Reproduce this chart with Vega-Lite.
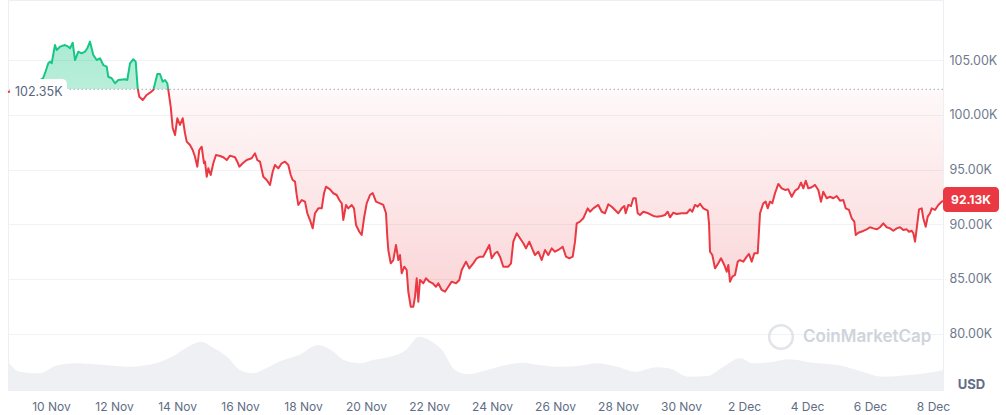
{
  "$schema": "https://vega.github.io/schema/vega-lite/v6.json",
  "width": 935,
  "height": 390,
  "autosize": {"type": "none"},
  "padding": {"left": 8, "top": 0, "right": 63, "bottom": 25},
  "background": "white",
  "config": {
    "font": "Inter",
    "view": {"stroke": "#eceff3"},
    "axis": {"labelFont": "Inter", "titleFont": "Inter"}
  },
  "datasets": {
    "price": [
      {"t": 8.635, "p": 102.10}, {"t": 9.016, "p": 102.38}, {"t": 9.397, "p": 102.74}, {"t": 9.746, "p": 103.36},
      {"t": 9.810, "p": 103.82}, {"t": 9.914, "p": 104.73}, {"t": 9.968, "p": 104.88}, {"t": 10.022, "p": 104.73},
      {"t": 10.127, "p": 106.40}, {"t": 10.181, "p": 105.95}, {"t": 10.286, "p": 106.25}, {"t": 10.444, "p": 106.40},
      {"t": 10.549, "p": 106.25}, {"t": 10.603, "p": 106.10}, {"t": 10.689, "p": 106.61}, {"t": 10.762, "p": 105.03},
      {"t": 10.867, "p": 105.79}, {"t": 10.975, "p": 105.64}, {"t": 11.079, "p": 105.79}, {"t": 11.152, "p": 106.10},
      {"t": 11.238, "p": 106.71}, {"t": 11.343, "p": 105.49}, {"t": 11.451, "p": 105.03}, {"t": 11.556, "p": 105.19},
      {"t": 11.660, "p": 104.57}, {"t": 11.768, "p": 104.42}, {"t": 11.819, "p": 103.50}, {"t": 11.927, "p": 103.36},
      {"t": 12.032, "p": 102.90}, {"t": 12.137, "p": 103.20}, {"t": 12.349, "p": 103.27}, {"t": 12.422, "p": 103.20},
      {"t": 12.508, "p": 104.73}, {"t": 12.613, "p": 105.10}, {"t": 12.689, "p": 104.88}, {"t": 12.752, "p": 102.44},
      {"t": 12.803, "p": 101.67}, {"t": 12.911, "p": 101.37}, {"t": 13.038, "p": 101.83}, {"t": 13.143, "p": 102.04},
      {"t": 13.248, "p": 102.29}, {"t": 13.302, "p": 102.90}, {"t": 13.375, "p": 103.75}, {"t": 13.460, "p": 103.75},
      {"t": 13.546, "p": 103.05}, {"t": 13.619, "p": 103.20}, {"t": 13.692, "p": 102.90}, {"t": 13.724, "p": 102.29},
      {"t": 13.800, "p": 100.76}, {"t": 13.863, "p": 98.81}, {"t": 13.937, "p": 98.17}, {"t": 14.010, "p": 99.70},
      {"t": 14.095, "p": 99.09}, {"t": 14.181, "p": 99.70}, {"t": 14.254, "p": 98.33}, {"t": 14.308, "p": 97.56},
      {"t": 14.413, "p": 97.26}, {"t": 14.498, "p": 96.80}, {"t": 14.571, "p": 96.18}, {"t": 14.644, "p": 95.27},
      {"t": 14.708, "p": 96.80}, {"t": 14.784, "p": 97.10}, {"t": 14.857, "p": 95.58}, {"t": 14.889, "p": 95.73},
      {"t": 14.943, "p": 94.35}, {"t": 14.994, "p": 95.12}, {"t": 15.070, "p": 94.51}, {"t": 15.152, "p": 95.58},
      {"t": 15.238, "p": 96.34}, {"t": 15.365, "p": 96.25}, {"t": 15.470, "p": 96.13}, {"t": 15.578, "p": 95.88},
      {"t": 15.683, "p": 96.28}, {"t": 15.841, "p": 96.13}, {"t": 15.914, "p": 95.73}, {"t": 15.978, "p": 95.27},
      {"t": 16.086, "p": 95.58}, {"t": 16.213, "p": 95.88}, {"t": 16.371, "p": 96.04}, {"t": 16.476, "p": 96.50},
      {"t": 16.549, "p": 95.88}, {"t": 16.635, "p": 95.73}, {"t": 16.740, "p": 94.35}, {"t": 16.848, "p": 94.05},
      {"t": 16.952, "p": 93.60}, {"t": 17.038, "p": 94.81}, {"t": 17.111, "p": 95.43}, {"t": 17.216, "p": 95.12},
      {"t": 17.324, "p": 95.58}, {"t": 17.429, "p": 95.73}, {"t": 17.533, "p": 95.43}, {"t": 17.610, "p": 94.51},
      {"t": 17.673, "p": 94.05}, {"t": 17.746, "p": 93.90}, {"t": 17.800, "p": 92.68}, {"t": 17.851, "p": 91.77},
      {"t": 17.959, "p": 92.22}, {"t": 18.063, "p": 92.07}, {"t": 18.137, "p": 91.01}, {"t": 18.222, "p": 90.39},
      {"t": 18.308, "p": 89.63}, {"t": 18.381, "p": 91.01}, {"t": 18.486, "p": 91.46}, {"t": 18.594, "p": 91.46},
      {"t": 18.667, "p": 92.84}, {"t": 18.730, "p": 93.44}, {"t": 18.857, "p": 93.20}, {"t": 18.962, "p": 92.84},
      {"t": 19.070, "p": 92.68}, {"t": 19.152, "p": 92.22}, {"t": 19.229, "p": 91.92}, {"t": 19.279, "p": 90.39},
      {"t": 19.365, "p": 91.77}, {"t": 19.438, "p": 91.46}, {"t": 19.546, "p": 91.77}, {"t": 19.619, "p": 91.46},
      {"t": 19.683, "p": 89.94}, {"t": 19.787, "p": 89.32}, {"t": 19.863, "p": 89.02}, {"t": 19.937, "p": 90.55},
      {"t": 20.022, "p": 91.92}, {"t": 20.127, "p": 92.68}, {"t": 20.213, "p": 92.86}, {"t": 20.317, "p": 92.07},
      {"t": 20.444, "p": 91.92}, {"t": 20.549, "p": 91.77}, {"t": 20.635, "p": 91.01}, {"t": 20.676, "p": 88.87},
      {"t": 20.708, "p": 87.65}, {"t": 20.784, "p": 86.43}, {"t": 20.867, "p": 86.73}, {"t": 20.952, "p": 88.11},
      {"t": 21.025, "p": 86.73}, {"t": 21.079, "p": 87.19}, {"t": 21.133, "p": 85.52}, {"t": 21.216, "p": 86.12},
      {"t": 21.292, "p": 85.82}, {"t": 21.343, "p": 83.83}, {"t": 21.419, "p": 82.46}, {"t": 21.502, "p": 82.46},
      {"t": 21.556, "p": 83.38}, {"t": 21.610, "p": 85.06}, {"t": 21.660, "p": 82.92}, {"t": 21.714, "p": 84.90},
      {"t": 21.819, "p": 84.60}, {"t": 21.905, "p": 85.06}, {"t": 22.010, "p": 84.75}, {"t": 22.117, "p": 84.60},
      {"t": 22.222, "p": 84.29}, {"t": 22.295, "p": 84.60}, {"t": 22.403, "p": 83.99}, {"t": 22.508, "p": 83.83},
      {"t": 22.613, "p": 84.29}, {"t": 22.721, "p": 84.75}, {"t": 22.857, "p": 84.60}, {"t": 22.962, "p": 84.90},
      {"t": 23.038, "p": 85.82}, {"t": 23.175, "p": 86.58}, {"t": 23.279, "p": 85.97}, {"t": 23.406, "p": 86.43},
      {"t": 23.514, "p": 86.89}, {"t": 23.619, "p": 87.04}, {"t": 23.724, "p": 87.04}, {"t": 23.832, "p": 87.65},
      {"t": 23.914, "p": 88.11}, {"t": 23.990, "p": 86.89}, {"t": 24.095, "p": 87.35}, {"t": 24.168, "p": 87.49},
      {"t": 24.254, "p": 87.04}, {"t": 24.359, "p": 86.12}, {"t": 24.517, "p": 86.12}, {"t": 24.603, "p": 86.43},
      {"t": 24.676, "p": 88.41}, {"t": 24.784, "p": 89.18}, {"t": 24.889, "p": 88.72}, {"t": 24.994, "p": 88.26},
      {"t": 25.079, "p": 87.80}, {"t": 25.184, "p": 88.41}, {"t": 25.292, "p": 87.65}, {"t": 25.365, "p": 87.19},
      {"t": 25.470, "p": 87.49}, {"t": 25.578, "p": 86.73}, {"t": 25.683, "p": 87.65}, {"t": 25.787, "p": 87.19},
      {"t": 25.895, "p": 87.80}, {"t": 26.000, "p": 87.49}, {"t": 26.105, "p": 87.65}, {"t": 26.244, "p": 87.95},
      {"t": 26.349, "p": 87.04}, {"t": 26.454, "p": 86.89}, {"t": 26.562, "p": 87.04}, {"t": 26.635, "p": 88.41},
      {"t": 26.689, "p": 90.09}, {"t": 26.794, "p": 90.24}, {"t": 26.898, "p": 90.55}, {"t": 27.038, "p": 91.46},
      {"t": 27.111, "p": 91.15}, {"t": 27.216, "p": 91.46}, {"t": 27.375, "p": 91.77}, {"t": 27.483, "p": 91.15},
      {"t": 27.587, "p": 91.01}, {"t": 27.692, "p": 91.83}, {"t": 27.800, "p": 91.61}, {"t": 27.905, "p": 91.31},
      {"t": 28.010, "p": 91.01}, {"t": 28.117, "p": 91.46}, {"t": 28.200, "p": 91.67}, {"t": 28.244, "p": 91.01},
      {"t": 28.327, "p": 91.77}, {"t": 28.413, "p": 91.67}, {"t": 28.486, "p": 92.38}, {"t": 28.562, "p": 92.38},
      {"t": 28.625, "p": 91.01}, {"t": 28.698, "p": 90.85}, {"t": 28.803, "p": 91.15}, {"t": 28.962, "p": 91.01},
      {"t": 29.121, "p": 90.76}, {"t": 29.229, "p": 90.70}, {"t": 29.387, "p": 90.76}, {"t": 29.492, "p": 90.85},
      {"t": 29.578, "p": 91.15}, {"t": 29.651, "p": 90.64}, {"t": 29.756, "p": 91.06}, {"t": 29.863, "p": 90.94},
      {"t": 30.022, "p": 91.01}, {"t": 30.181, "p": 91.01}, {"t": 30.286, "p": 91.37}, {"t": 30.359, "p": 91.15},
      {"t": 30.444, "p": 91.77}, {"t": 30.530, "p": 91.61}, {"t": 30.603, "p": 91.88}, {"t": 30.708, "p": 91.46},
      {"t": 30.848, "p": 91.25}, {"t": 30.889, "p": 90.09}, {"t": 30.921, "p": 87.49}, {"t": 30.994, "p": 87.19},
      {"t": 31.079, "p": 85.97}, {"t": 31.184, "p": 86.43}, {"t": 31.270, "p": 86.89}, {"t": 31.375, "p": 86.28},
      {"t": 31.451, "p": 85.66}, {"t": 31.502, "p": 86.28}, {"t": 31.556, "p": 84.75}, {"t": 31.629, "p": 85.21},
      {"t": 31.714, "p": 85.36}, {"t": 31.800, "p": 86.58}, {"t": 31.873, "p": 86.73}, {"t": 31.978, "p": 86.58},
      {"t": 32.086, "p": 87.04}, {"t": 32.159, "p": 87.28}, {"t": 32.244, "p": 86.58}, {"t": 32.327, "p": 87.35},
      {"t": 32.435, "p": 87.35}, {"t": 32.508, "p": 91.01}, {"t": 32.613, "p": 91.92}, {"t": 32.689, "p": 92.07},
      {"t": 32.752, "p": 91.46}, {"t": 32.825, "p": 92.07}, {"t": 32.898, "p": 91.92}, {"t": 32.984, "p": 92.84},
      {"t": 33.089, "p": 93.69}, {"t": 33.197, "p": 93.29}, {"t": 33.302, "p": 93.14}, {"t": 33.406, "p": 93.20},
      {"t": 33.514, "p": 92.52}, {"t": 33.619, "p": 93.07}, {"t": 33.724, "p": 93.29}, {"t": 33.810, "p": 93.81},
      {"t": 33.883, "p": 93.29}, {"t": 33.959, "p": 93.99}, {"t": 34.041, "p": 93.29}, {"t": 34.149, "p": 93.39},
      {"t": 34.254, "p": 93.60}, {"t": 34.359, "p": 93.14}, {"t": 34.444, "p": 92.07}, {"t": 34.517, "p": 92.98},
      {"t": 34.625, "p": 92.38}, {"t": 34.730, "p": 92.52}, {"t": 34.835, "p": 92.38}, {"t": 34.943, "p": 92.59},
      {"t": 35.048, "p": 92.16}, {"t": 35.152, "p": 92.22}, {"t": 35.229, "p": 91.46}, {"t": 35.333, "p": 91.31},
      {"t": 35.419, "p": 90.55}, {"t": 35.502, "p": 90.24}, {"t": 35.546, "p": 89.02}, {"t": 35.629, "p": 89.23},
      {"t": 35.714, "p": 89.32}, {"t": 35.787, "p": 89.39}, {"t": 35.895, "p": 89.54}, {"t": 36.000, "p": 89.73},
      {"t": 36.105, "p": 89.63}, {"t": 36.213, "p": 89.54}, {"t": 36.317, "p": 89.73}, {"t": 36.422, "p": 90.09},
      {"t": 36.530, "p": 89.73}, {"t": 36.635, "p": 89.63}, {"t": 36.740, "p": 89.41}, {"t": 36.848, "p": 89.63},
      {"t": 36.952, "p": 89.73}, {"t": 37.057, "p": 89.48}, {"t": 37.165, "p": 89.54}, {"t": 37.238, "p": 89.32},
      {"t": 37.324, "p": 89.41}, {"t": 37.375, "p": 89.18}, {"t": 37.429, "p": 88.41}, {"t": 37.483, "p": 89.63},
      {"t": 37.556, "p": 91.37}, {"t": 37.641, "p": 91.46}, {"t": 37.692, "p": 90.55}, {"t": 37.768, "p": 89.78},
      {"t": 37.832, "p": 90.70}, {"t": 37.905, "p": 91.01}, {"t": 37.959, "p": 91.46}, {"t": 38.063, "p": 91.31},
      {"t": 38.168, "p": 91.77}, {"t": 38.276, "p": 92.07}, {"t": 38.317, "p": 92.13}
    ],
    "vol": [
      {"t": 8.635, "v": 56.6}, {"t": 9.000, "v": 36.6}, {"t": 9.619, "v": 33.4}, {"t": 10.235, "v": 50},
      {"t": 10.857, "v": 53.4}, {"t": 11.683, "v": 50}, {"t": 12.508, "v": 46.6}, {"t": 13.333, "v": 53.4},
      {"t": 13.937, "v": 70}, {"t": 14.349, "v": 86.6}, {"t": 14.762, "v": 96.6}, {"t": 15.175, "v": 83.4},
      {"t": 15.587, "v": 66.6}, {"t": 16.000, "v": 40}, {"t": 16.413, "v": 33.4}, {"t": 16.825, "v": 43.4},
      {"t": 17.238, "v": 56.6}, {"t": 17.873, "v": 70}, {"t": 18.476, "v": 90}, {"t": 18.889, "v": 80},
      {"t": 19.302, "v": 60}, {"t": 19.810, "v": 53.4}, {"t": 20.222, "v": 60}, {"t": 20.762, "v": 66.6},
      {"t": 21.270, "v": 80}, {"t": 21.683, "v": 106.6}, {"t": 22.095, "v": 96.6}, {"t": 22.413, "v": 80},
      {"t": 22.825, "v": 40}, {"t": 23.238, "v": 31.4}, {"t": 23.841, "v": 40}, {"t": 24.444, "v": 50},
      {"t": 24.984, "v": 54.6}, {"t": 25.492, "v": 50}, {"t": 26.095, "v": 46.6}, {"t": 26.730, "v": 48},
      {"t": 27.333, "v": 53.4}, {"t": 27.968, "v": 46.6}, {"t": 28.571, "v": 36.6}, {"t": 29.206, "v": 45.4},
      {"t": 29.619, "v": 43.4}, {"t": 30.222, "v": 26.6}, {"t": 30.857, "v": 28}, {"t": 31.270, "v": 43.4},
      {"t": 31.873, "v": 63.4}, {"t": 32.286, "v": 53.4}, {"t": 32.921, "v": 56.6}, {"t": 33.429, "v": 61.4},
      {"t": 34.159, "v": 54.6}, {"t": 34.984, "v": 50}, {"t": 35.587, "v": 40}, {"t": 36.413, "v": 26.6},
      {"t": 37.238, "v": 30}, {"t": 38.063, "v": 36.6}, {"t": 38.317, "v": 40}
    ]
  },
  "layer": [
    {
      "data": {"name": "vol"},
      "mark": {"type": "area", "color": "#eef0f3", "interpolate": "monotone"},
      "encoding": {
        "x": {
          "field": "t", "type": "quantitative",
          "scale": {"domain": [8.635, 38.317], "nice": false, "zero": false},
          "axis": {
            "values": [10, 12, 14, 16, 18, 20, 22, 24, 26, 28, 30, 32, 34, 36, 38],
            "labelExpr": "datum.value <= 30 ? datum.value + ' Nov' : (datum.value - 30) + ' Dec'",
            "grid": false, "ticks": false, "domain": false,
            "labelPadding": 11, "labelFontSize": 12, "labelColor": "#616e85",
            "labelFlush": false, "labelOverlap": false, "title": null
          }
        },
        "y": {"field": "v", "type": "quantitative", "scale": {"domain": [0, 780], "nice": false}, "axis": null}
      }
    },
    {
      "layer": [
        {
          "data": {"name": "price"},
          "mark": {
            "type": "area",
            "color": {
              "gradient": "linear", "x1": 0, "y1": 0, "x2": 0, "y2": 1,
              "stops": [
                {"offset": 0, "color": "rgba(22,199,132,0.36)"},
                {"offset": 0.1798, "color": "rgba(22,199,132,0.30)"},
                {"offset": 0.1798, "color": "rgba(234,57,67,0.03)"},
                {"offset": 1, "color": "rgba(234,57,67,0.22)"}
              ]
            }
          },
          "encoding": {
            "x": {"field": "t", "type": "quantitative"},
            "y": {
              "field": "p", "type": "quantitative",
              "scale": {"domain": [74.84, 110.52], "nice": false, "zero": false},
              "axis": {
                "orient": "right",
                "values": [80, 85, 90, 95, 100, 105],
                "labelExpr": "format(datum.value, '.2f') + 'K'",
                "grid": true, "gridColor": "#f0f2f5", "ticks": false, "domain": false,
                "labelPadding": 6, "labelFontSize": 12.5, "labelColor": "#6f7a8e",
                "title": "USD", "titleAngle": 0, "titleX": 28, "titleY": 384,
                "titleAlign": "center", "titleBaseline": "middle",
                "titleFontSize": 13, "titleFontWeight": "bold", "titleColor": "#616e85"
              }
            },
            "y2": {"datum": 102.35}
          }
        },
        {
          "data": {"values": [{}]},
          "mark": {"type": "rule", "strokeDash": [1.5, 2.5], "color": "#a4acb9", "strokeWidth": 1},
          "encoding": {"y": {"datum": 102.35}}
        },
        {
          "data": {"name": "price"},
          "mark": {
            "type": "line", "strokeWidth": 2, "strokeJoin": "round",
            "stroke": {
              "gradient": "linear", "x1": 0, "y1": 0, "x2": 0, "y2": 1,
              "stops": [
                {"offset": 0, "color": "#16c784"},
                {"offset": 0.1798, "color": "#16c784"},
                {"offset": 0.1798, "color": "#ea3943"},
                {"offset": 1, "color": "#ea3943"}
              ]
            }
          },
          "encoding": {
            "x": {"field": "t", "type": "quantitative"},
            "y": {"field": "p", "type": "quantitative"}
          }
        },
        {
          "data": {"values": [{}]},
          "mark": {"type": "rect", "fill": "white", "cornerRadius": 5},
          "encoding": {
            "x": {"datum": 8.70}, "x2": {"datum": 10.508},
            "y": {"datum": 103.29}, "y2": {"datum": 101.56}
          }
        },
        {
          "data": {"values": [{}]},
          "mark": {"type": "text", "text": "102.35K", "align": "left", "baseline": "middle", "fontSize": 12.5, "color": "#58667e", "dy": 3},
          "encoding": {"x": {"datum": 8.857}, "y": {"datum": 102.35}}
        },
        {
          "data": {"values": [{}]},
          "mark": {"type": "point", "shape": "circle", "filled": false, "size": 560, "stroke": "#d6dae0", "strokeWidth": 2.5},
          "encoding": {"x": {"datum": 33.175}, "y": {"datum": 79.69}}
        },
        {
          "data": {"values": [{}]},
          "mark": {"type": "text", "text": "CoinMarketCap", "align": "left", "baseline": "middle", "fontSize": 17, "fontWeight": 600, "color": "#cfd4db"},
          "encoding": {"x": {"datum": 33.873}, "y": {"datum": 79.69}}
        },
        {
          "data": {"values": [{}]},
          "mark": {"type": "rect", "fill": "#ea3943", "cornerRadius": 4, "clip": false},
          "encoding": {
            "x": {"datum": 38.317}, "x2": {"datum": 40.095},
            "y": {"datum": 93.41}, "y2": {"datum": 91.12}
          }
        },
        {
          "data": {"values": [{}]},
          "mark": {"type": "text", "text": "92.13K", "align": "center", "baseline": "middle", "fontSize": 12, "fontWeight": "bold", "color": "white", "clip": false},
          "encoding": {"x": {"datum": 39.206}, "y": {"datum": 92.25}}
        }
      ]
    }
  ],
  "resolve": {"scale": {"y": "independent"}}
}
